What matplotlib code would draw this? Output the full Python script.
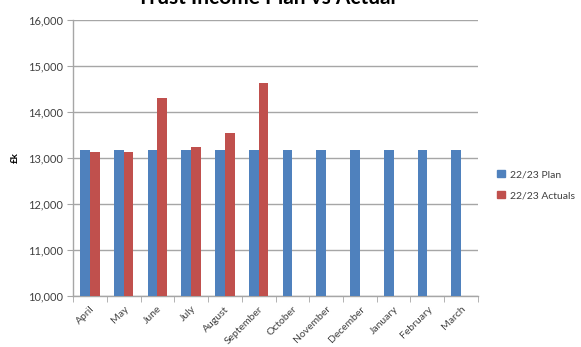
import matplotlib
matplotlib.use("Agg")
import matplotlib.pyplot as plt
import numpy as np
from matplotlib.patches import Patch

months = ["April", "May", "June", "July", "August", "September",
          "October", "November", "December", "January", "February", "March"]
plan = [13170, 13170, 13170, 13170, 13170, 13170,
        13170, 13170, 13170, 13170, 13170, 13170]
actuals = [13130, 13130, 14300, 13250, 13550, 14630]
y_ticks = [10000, 11000, 12000, 13000, 14000, 15000, 16000]

plt.rcParams["font.family"] = ["Lato", "DejaVu Sans"]

blue = "#4F81BD"
red = "#C0504D"
grid_c = "#A6A6A6"

fig = plt.figure(figsize=(5.81, 3.47), dpi=100)
ax = fig.add_axes([73 / 581, 51 / 347, 405 / 581, 276 / 347])

x = np.arange(len(months))
w = 0.286
ax.bar(x - w / 2, plan, width=w, color=blue, zorder=3, label="22/23 Plan")
ax.bar(np.arange(len(actuals)) + w / 2, actuals, width=w, color=red, zorder=3,
       label="22/23 Actuals")

ax.set_xlim(-0.5, len(months) - 0.5)
ax.set_ylim(10000, 16000)
ax.set_yticks(y_ticks)
ax.set_yticklabels([f"{v:,}" for v in y_ticks], fontsize=8, color="#404040")
ax.yaxis.grid(True, color=grid_c, linewidth=1.0, zorder=0)

ax.set_xticks(x)
ax.set_xticklabels(months, rotation=45, ha="right", rotation_mode="anchor",
                   fontsize=7.5, color="#404040")
ax.set_xticks(np.arange(-0.5, len(months)), minor=True)
ax.tick_params(axis="x", which="major", length=0, pad=6)
ax.tick_params(axis="x", which="minor", length=4, color=grid_c)
ax.tick_params(axis="y", length=4, color=grid_c, pad=3)

for s in ["top", "right"]:
    ax.spines[s].set_visible(False)
for s in ["left", "bottom"]:
    ax.spines[s].set_color(grid_c)
    ax.spines[s].set_linewidth(1.0)

ax.set_ylabel("£k", fontsize=7, fontweight="bold", labelpad=6)

fig.text(266 / 581, 1 - 4 / 347, "Trust Income Plan vs Actual",
         ha="center", va="baseline", fontsize=15, fontweight="bold")

handles = [Patch(color=blue, label="22/23 Plan"), Patch(color=red, label="22/23 Actuals")]
fig.legend(handles=handles, loc="center left", bbox_to_anchor=(488 / 581, 1 - 185 / 347),
           frameon=False, fontsize=7.5, handlelength=0.7, handleheight=0.7,
           handletextpad=0.5, labelspacing=1.1, labelcolor="#404040")

fig.savefig("out.png", dpi=100)
